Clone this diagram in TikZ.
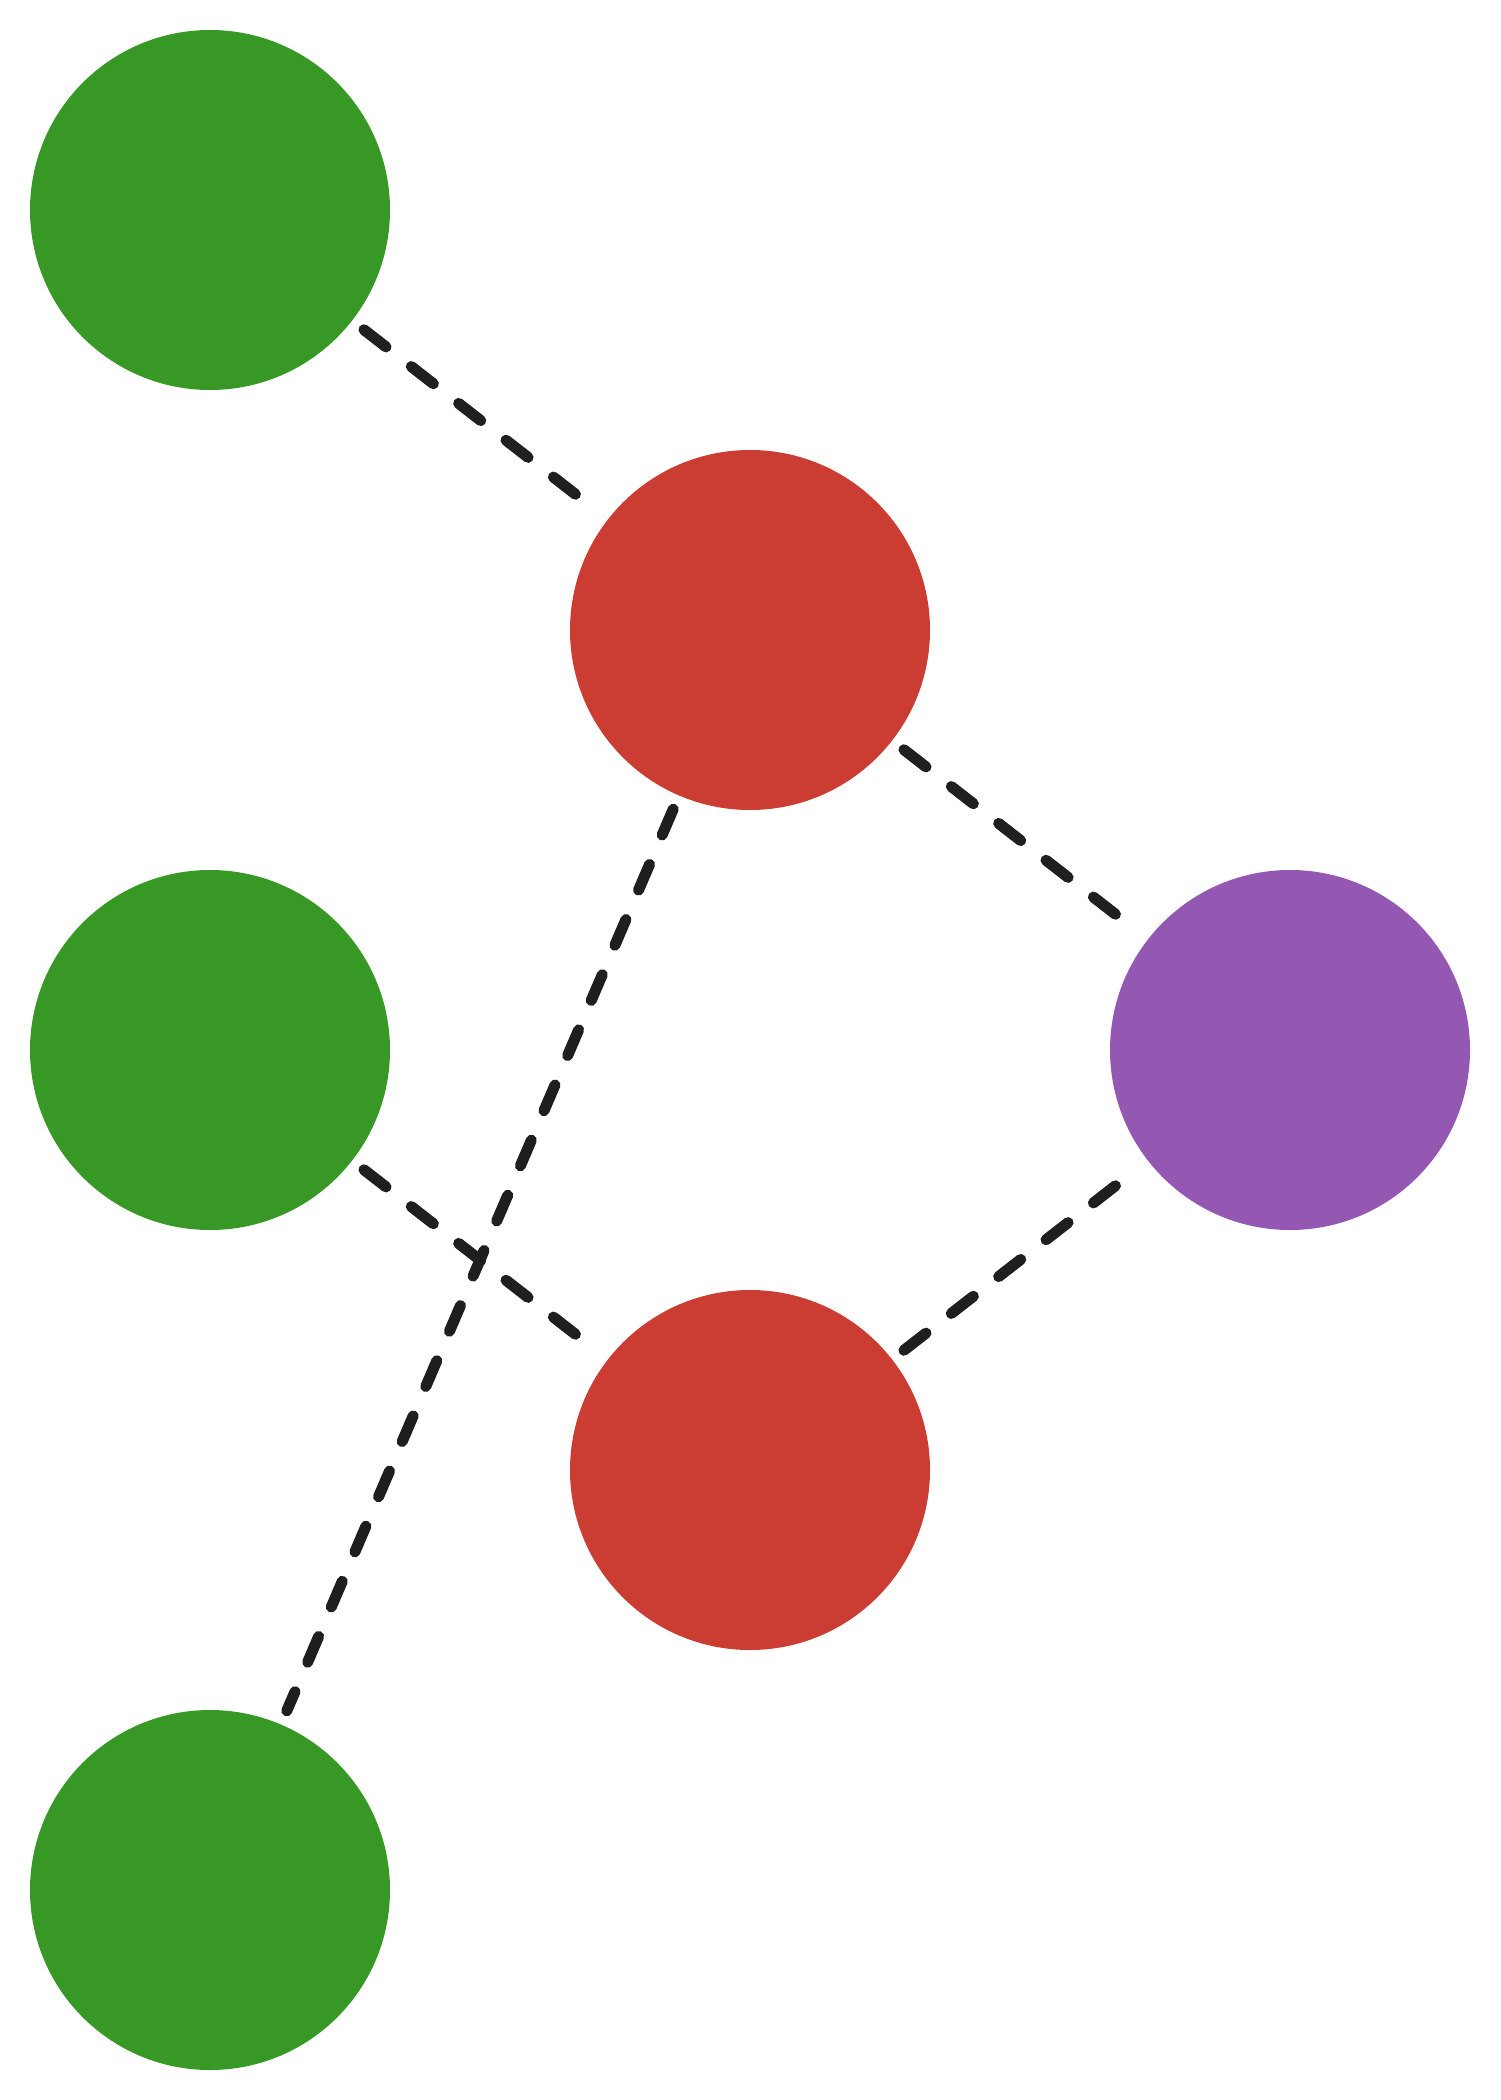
\documentclass[tikz,border=0pt]{standalone}
\definecolor{jgreen}{HTML}{389826}
\definecolor{jred}{HTML}{CB3C33}
\definecolor{jpurple}{HTML}{9558B2}
\definecolor{edgegray}{HTML}{1F1F1F}
\begin{document}
\begin{tikzpicture}[x=1pt,y=-1pt,
  vtx/.style={circle,minimum size=360pt,inner sep=0pt,outer sep=0pt,draw=none},
  edgeline/.style={draw=edgegray,line width=11pt,line cap=round,
    dash pattern=on 28pt off 32pt,shorten <=15pt,shorten >=15pt}]
\useasboundingbox (0,0) rectangle (1500,2100);
\node[vtx,fill=jgreen] (g1) at (210,210) {};
\node[vtx,fill=jred] (r1) at (750,630) {};
\node[vtx,fill=jgreen] (g2) at (210,1050) {};
\node[vtx,fill=jpurple] (p) at (1290,1050) {};
\node[vtx,fill=jred] (r2) at (750,1470) {};
\node[vtx,fill=jgreen] (g3) at (210,1890) {};
\draw[edgeline] (g1) -- (r1);
\draw[edgeline] (r1) -- (p);
\draw[edgeline] (r1) -- (g3);
\draw[edgeline] (g2) -- (r2);
\draw[edgeline] (r2) -- (p);
\end{tikzpicture}
\end{document}
